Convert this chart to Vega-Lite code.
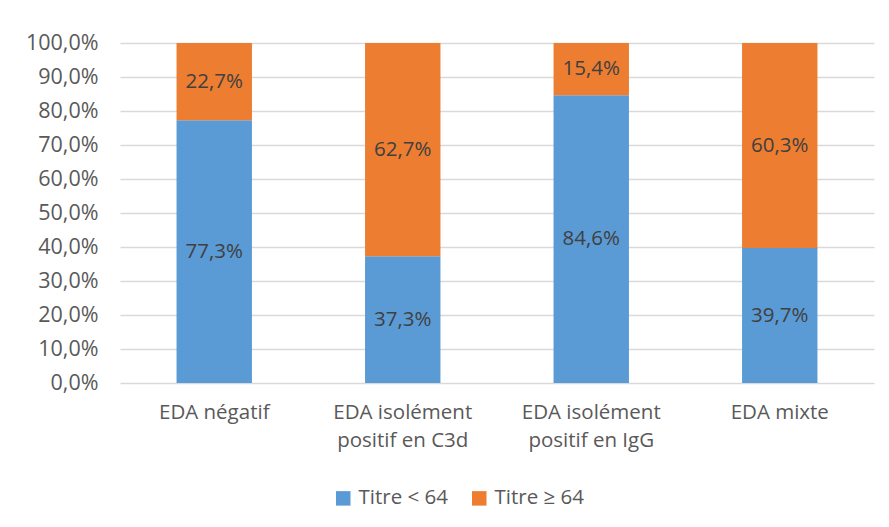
{
  "$schema": "https://vega.github.io/schema/vega-lite/v6.json",
  "width": 754,
  "height": 340,
  "autosize": {"type": "none"},
  "padding": {"left": 120, "top": 43, "right": 15, "bottom": 144},
  "background": "white",
  "config": {
    "locale": {"number": {"decimal": ",", "thousands": " ", "grouping": [3], "currency": ["", " €"]}},
    "view": {"stroke": null},
    "font": "Open Sans",
    "axisY": {
      "title": null,
      "format": ".1%",
      "values": [0, 0.1, 0.2, 0.3, 0.4, 0.5, 0.6, 0.7, 0.8, 0.9, 1],
      "labelFontSize": 21.5,
      "labelColor": "#595959",
      "labelPadding": 22,
      "labelOverlap": false,
      "ticks": false,
      "domain": false,
      "gridColor": "#D9D9D9",
      "gridWidth": 1.3
    }
  },
  "data": {
    "values": [
      {"cat": "EDA négatif", "serie": "Titre < 64", "ordre": 1, "val": 0.773},
      {"cat": "EDA négatif", "serie": "Titre ≥ 64", "ordre": 2, "val": 0.227},
      {"cat": "EDA isolément positif en C3d", "serie": "Titre < 64", "ordre": 1, "val": 0.373},
      {"cat": "EDA isolément positif en C3d", "serie": "Titre ≥ 64", "ordre": 2, "val": 0.627},
      {"cat": "EDA isolément positif en IgG", "serie": "Titre < 64", "ordre": 1, "val": 0.846},
      {"cat": "EDA isolément positif en IgG", "serie": "Titre ≥ 64", "ordre": 2, "val": 0.154},
      {"cat": "EDA mixte", "serie": "Titre < 64", "ordre": 1, "val": 0.397},
      {"cat": "EDA mixte", "serie": "Titre ≥ 64", "ordre": 2, "val": 0.603}
    ]
  },
  "transform": [
    {"stack": "val", "groupby": ["cat"], "sort": [{"field": "ordre", "order": "ascending"}], "as": ["v0", "v1"]},
    {"calculate": "(datum.v0 + datum.v1) / 2", "as": "vmid"}
  ],
  "encoding": {
    "x": {
      "field": "cat",
      "type": "nominal",
      "sort": ["EDA négatif", "EDA isolément positif en C3d", "EDA isolément positif en IgG", "EDA mixte"],
      "scale": {"paddingInner": 0.6, "paddingOuter": 0.3},
      "axis": {
        "title": null,
        "labelAngle": 0,
        "labelExpr": "datum.value == 'EDA isolément positif en C3d' ? ['EDA isolément', 'positif en C3d'] : datum.value == 'EDA isolément positif en IgG' ? ['EDA isolément', 'positif en IgG'] : datum.value",
        "labelFontSize": 20.5,
        "labelColor": "#595959",
        "labelLineHeight": 28,
        "labelPadding": 29,
        "labelBaseline": "middle",
        "labelOverlap": false,
        "ticks": false,
        "domain": false,
        "labelLimit": 300
      }
    }
  },
  "layer": [
    {
      "mark": {"type": "bar"},
      "encoding": {
        "y": {
          "field": "v0",
          "type": "quantitative",
          "scale": {"domain": [0, 1]},
          "axis": {"values": [0, 0.1, 0.2, 0.3, 0.4, 0.5, 0.6, 0.7, 0.8, 0.9, 1], "labelOverlap": false, "tickCount": 11}
        },
        "y2": {"field": "v1"},
        "color": {
          "field": "serie",
          "type": "nominal",
          "scale": {"domain": ["Titre < 64", "Titre ≥ 64"], "range": ["#5B9BD5", "#ED7D31"]},
          "legend": {
            "title": null,
            "orient": "none",
            "direction": "horizontal",
            "legendX": 213,
            "legendY": 445,
            "symbolType": "square",
            "symbolSize": 210,
            "symbolStrokeWidth": 0,
            "labelFontSize": 20.5,
            "labelColor": "#595959",
            "labelOffset": 5,
            "columnPadding": 21
          }
        }
      }
    },
    {
      "mark": {"type": "text", "fontSize": 20.5, "color": "#404040", "baseline": "middle"},
      "encoding": {
        "y": {
          "field": "vmid",
          "type": "quantitative",
          "axis": {"values": [0, 0.1, 0.2, 0.3, 0.4, 0.5, 0.6, 0.7, 0.8, 0.9, 1], "labelOverlap": false, "tickCount": 11}
        },
        "text": {"field": "val", "type": "quantitative", "format": ".1%"}
      }
    }
  ]
}
